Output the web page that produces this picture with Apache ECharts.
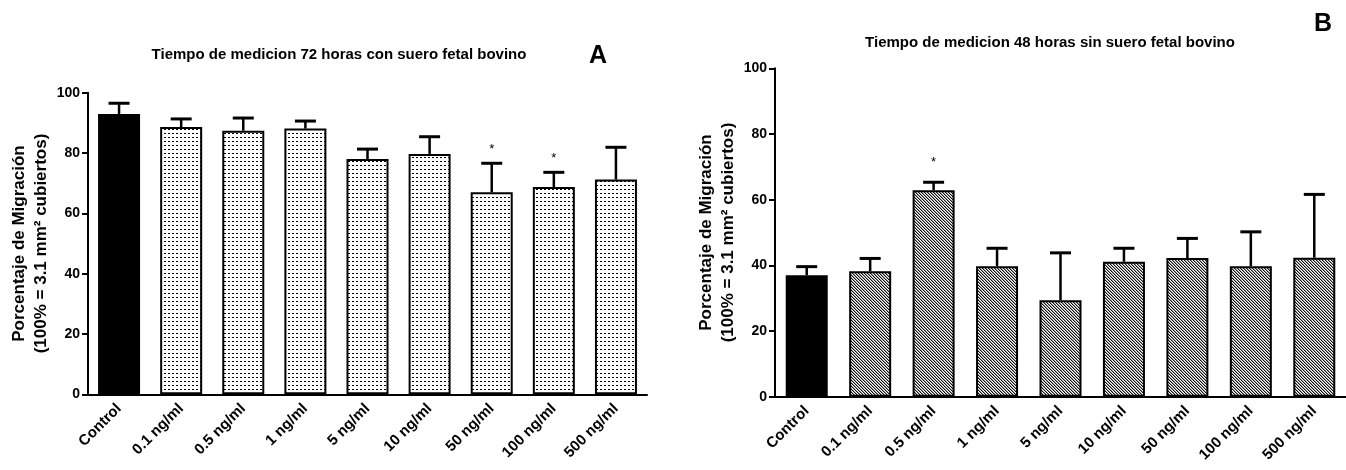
<!DOCTYPE html>
<html>
<head>
<meta charset="utf-8">
<script src="https://cdn.jsdelivr.net/npm/echarts@6/dist/echarts.min.js"></script>
<style>
  html, body { margin: 0; padding: 0; background: #fff; }
  #chart { width: 1346px; height: 470px; }
</style>
</head>
<body>
<div id="chart"></div>
<script>
// ---- Data ----
const categories = ['Control', '0.1 ng/ml', '0.5 ng/ml', '1 ng/ml', '5 ng/ml', '10 ng/ml', '50 ng/ml', '100 ng/ml', '500 ng/ml'];
const yTicks = [0, 20, 40, 60, 80, 100];

const titleA = 'Tiempo de medicion 72 horas con suero fetal bovino';
const meanA = [92.9, 88.6, 87.4, 88.1, 78.0, 79.7, 67.0, 68.7, 71.2];
const errA  = [3.6, 2.7, 4.2, 2.5, 3.3, 5.7, 9.6, 4.9, 10.7];
const starA = ['', '', '', '', '', '', '*', '*', ''];

const titleB = 'Tiempo de medicion 48 horas sin suero fetal bovino';
const meanB = [37.0, 38.2, 62.9, 39.7, 29.4, 41.1, 42.2, 39.7, 42.3];
const errB  = [2.6, 3.9, 2.4, 5.5, 14.4, 4.1, 6.0, 10.5, 19.3];
const starB = ['', '', '*', '', '', '', '', '', ''];

const yName = 'Porcentaje de Migración\n(100% = 3.1 mm² cubiertos)';

// ---- Patterns ----
function dotPattern() {
  const c = document.createElement('canvas');
  c.width = 4; c.height = 4;
  const g = c.getContext('2d');
  g.fillStyle = '#fff'; g.fillRect(0, 0, 4, 4);
  g.fillStyle = '#000'; g.fillRect(0, 1, 2, 1);
  return c;
}
function hatchPattern() {
  const c = document.createElement('canvas');
  c.width = 3; c.height = 3;
  const g = c.getContext('2d');
  g.fillStyle = '#fff'; g.fillRect(0, 0, 3, 3);
  for (let i = 0; i < 3; i++) {
    g.fillStyle = '#111'; g.fillRect(i, i, 1, 1);
    g.fillStyle = '#999'; g.fillRect((i + 1) % 3, i, 1, 1);
  }
  return c;
}
const dotFill = { image: dotPattern(), repeat: 'repeat' };
const hatchFill = { image: hatchPattern(), repeat: 'repeat' };

const FONT = '"Liberation Sans", Arial, sans-serif';

function barData(means, fill) {
  return means.map((v, i) => ({
    value: v,
    itemStyle: { color: i === 0 ? '#000' : fill }
  }));
}

function errSeries(idx, means, errs, stars, starGap) {
  return {
    type: 'custom',
    xAxisIndex: idx, yAxisIndex: idx,
    z: 5,
    data: means.map((m, i) => [i, m, m + errs[i]]),
    renderItem: function (params, api) {
      const i = api.value(0);
      const b = api.coord([i, api.value(1)]);
      const t = api.coord([i, api.value(2)]);
      const children = [
        { type: 'line', shape: { x1: b[0], y1: b[1], x2: t[0], y2: t[1] }, style: { stroke: '#000', lineWidth: 2.5 } },
        { type: 'line', shape: { x1: t[0] - 10.5, y1: t[1], x2: t[0] + 10.5, y2: t[1] }, style: { stroke: '#000', lineWidth: 3 } }
      ];
      if (stars[i]) {
        children.push({
          type: 'text',
          style: { text: stars[i], x: t[0], y: t[1] - starGap, align: 'center', verticalAlign: 'middle', fill: '#000', font: '13px ' + FONT }
        });
      }
      return { type: 'group', children: children };
    }
  };
}

function xAxis(idx) {
  return {
    type: 'category', gridIndex: idx, data: categories, boundaryGap: true,
    axisLine: { lineStyle: { color: '#000', width: 2 } },
    axisTick: { alignWithLabel: true, length: 6, lineStyle: { color: '#000', width: 2 } },
    axisLabel: { rotate: 45, margin: 12, color: '#000', fontWeight: 'bold', fontSize: 15, fontFamily: FONT, interval: 0 },
    splitLine: { show: false }
  };
}
function yAxis(idx) {
  return {
    type: 'value', gridIndex: idx, min: yTicks[0], max: yTicks[yTicks.length - 1], interval: yTicks[1] - yTicks[0],
    name: yName, nameLocation: 'middle', nameRotate: 90, nameGap: 36,
    nameTextStyle: { color: '#000', fontWeight: 'bold', fontSize: 17, fontFamily: FONT, lineHeight: 22 },
    axisLine: { show: true, lineStyle: { color: '#000', width: 2 } },
    axisTick: { show: true, length: 6, lineStyle: { color: '#000', width: 2 } },
    axisLabel: { margin: 8, color: '#000', fontWeight: 'bold', fontSize: 14, fontFamily: FONT },
    splitLine: { show: false }
  };
}

const chart = echarts.init(document.getElementById('chart'), null, { renderer: 'canvas' });
chart.setOption({
  animation: false,
  backgroundColor: '#fff',
  title: [
    { text: titleA, left: 334, top: 50, textAlign: 'center', textVerticalAlign: 'middle',
      textStyle: { fontSize: 15, fontWeight: 'bold', color: '#000', fontFamily: FONT } },
    { text: 'A', left: 593, top: 51, textAlign: 'center', textVerticalAlign: 'middle',
      textStyle: { fontSize: 25, fontWeight: 'bold', color: '#000', fontFamily: FONT } },
    { text: titleB, left: 1045, top: 38, textAlign: 'center', textVerticalAlign: 'middle',
      textStyle: { fontSize: 15, fontWeight: 'bold', color: '#000', fontFamily: FONT } },
    { text: 'B', left: 1318, top: 19, textAlign: 'center', textVerticalAlign: 'middle',
      textStyle: { fontSize: 25, fontWeight: 'bold', color: '#000', fontFamily: FONT } }
  ],
  grid: [
    { left: 88, right: 699, top: 92.7, bottom: 75.7 },
    { left: 775, right: 0, top: 68.3, bottom: 73.3 }
  ],
  xAxis: [xAxis(0), xAxis(1)],
  yAxis: [yAxis(0), yAxis(1)],
  series: [
    { type: 'bar', xAxisIndex: 0, yAxisIndex: 0, barWidth: 42, data: barData(meanA, dotFill),
      itemStyle: { borderColor: '#000', borderWidth: 2 } },
    { type: 'bar', xAxisIndex: 1, yAxisIndex: 1, barWidth: 42, data: barData(meanB, hatchFill),
      itemStyle: { borderColor: '#000', borderWidth: 2 } },
    errSeries(0, meanA, errA, starA, 14),
    errSeries(1, meanB, errB, starB, 20)
  ]
});
</script>
</body>
</html>
